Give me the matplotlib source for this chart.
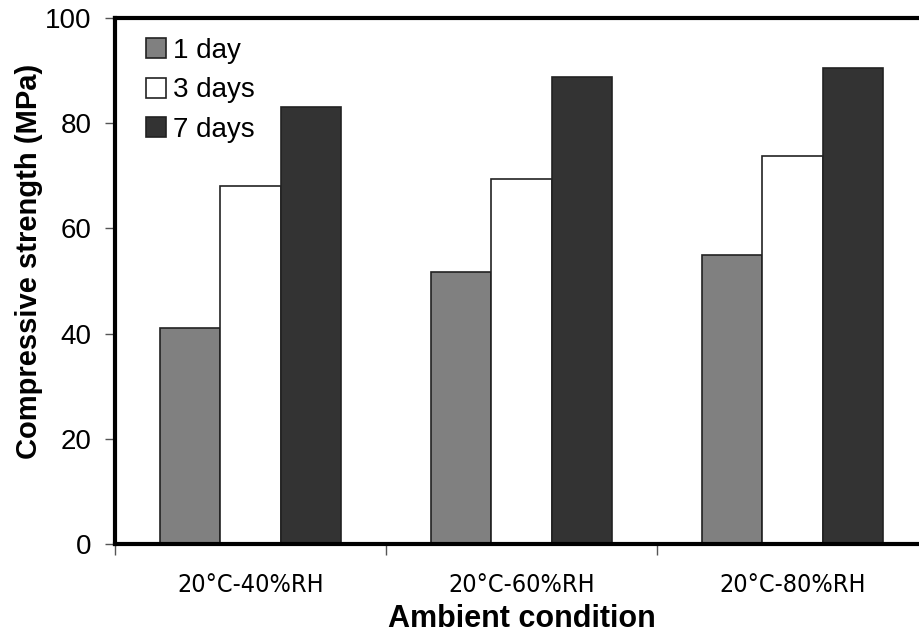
import matplotlib.pyplot as plt
import numpy as np
from matplotlib.ticker import FixedLocator

conditions = ['20°C-40%RH', '20°C-60%RH', '20°C-80%RH']
ages = ['1 day', '3 days', '7 days']
day1 = [41.0, 51.8, 55.0]
day3 = [68.0, 69.4, 73.8]
day7 = [83.0, 88.8, 90.5]
colors = ['#808080', '#ffffff', '#333333']

plt.rcParams['font.family'] = ['Liberation Sans', 'DejaVu Sans']

fig = plt.figure(figsize=(9.19, 6.34), dpi=100)
ax = fig.add_axes([115 / 919, 1 - 544 / 634, (928 - 115) / 919, (544 - 18) / 634])

x = np.arange(len(conditions))
w = 0.223
for i, (vals, lab, c) in enumerate(zip([day1, day3, day7], ages, colors)):
    ax.bar(x + (i - 1) * w, vals, w, color=c, edgecolor='#222222',
           linewidth=1.2, label=lab)

ax.set_xlim(-0.5, 2.5)
ax.set_ylim(0, 100)
ax.set_yticks(range(0, 101, 20))
ax.tick_params(axis='y', labelsize=20, length=7, width=1, color='#555555', pad=10)

ax.set_xticks(x)
ax.set_xticklabels(conditions, family='DejaVu Sans', stretch='condensed', fontsize=18)
ax.tick_params(axis='x', which='major', length=0, pad=21)
ax.xaxis.set_minor_locator(FixedLocator([-0.5, 0.5, 1.5, 2.5]))
ax.tick_params(axis='x', which='minor', length=8, width=1, color='#555555', direction='out')

for s in ['left', 'bottom', 'top']:
    ax.spines[s].set_linewidth(3)
ax.spines['right'].set_visible(False)

ax.set_ylabel('Compressive strength (MPa)', fontsize=21, fontweight='bold')
ax.yaxis.set_label_coords(-0.089, 0.538)
ax.set_xlabel('Ambient condition', fontsize=22, fontweight='bold', labelpad=5)

ax.legend(loc='upper left', frameon=False, fontsize=20, handlelength=0.72,
          handleheight=0.72, handletextpad=0.25, labelspacing=0.48,
          bbox_to_anchor=(0.025, 0.983), borderaxespad=0)

fig.savefig('out.png', dpi=100)
